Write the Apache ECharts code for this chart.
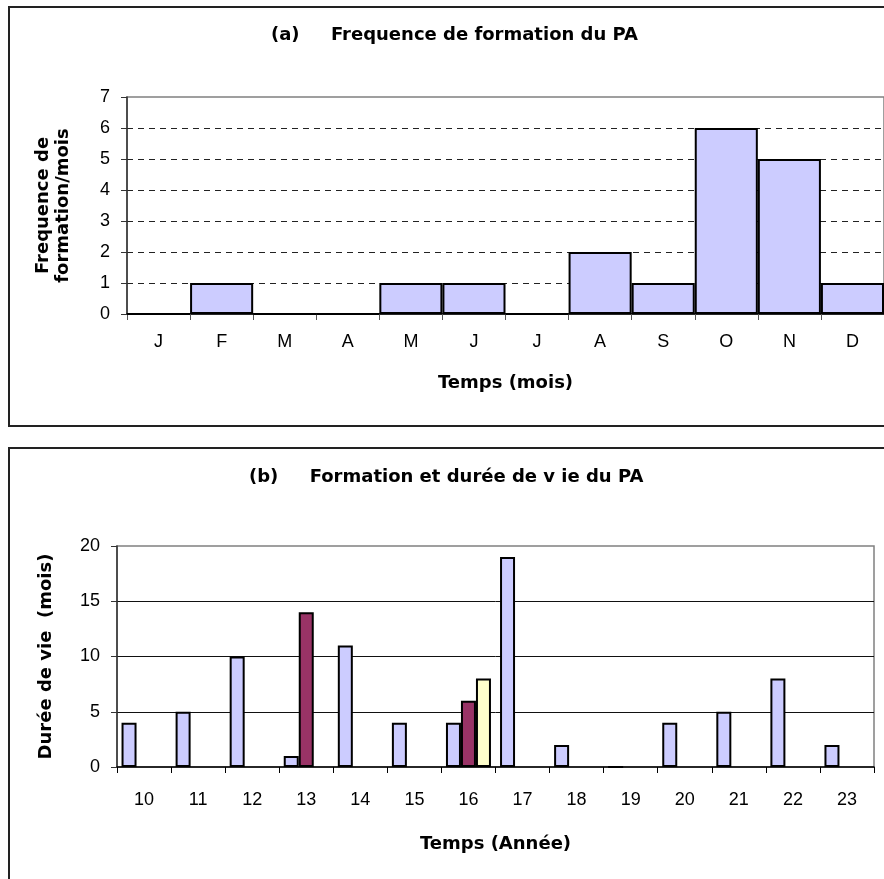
<!DOCTYPE html>
<html>
<head>
<meta charset="utf-8">
<script src="https://cdn.jsdelivr.net/npm/echarts@6/dist/echarts.min.js"></script>
<style>
html,body{margin:0;padding:0;background:#fff;}
#c{width:884px;height:879px;}
</style>
</head>
<body>
<div id="c"></div>
<script>
// Chart (a): formation frequency per month
const months = ['J','F','M','A','M','J','J','A','S','O','N','D'];
const freqValues = [0,1,0,0,1,1,0,2,1,6,5,1];
const freqTicks = [0,1,2,3,4,5,6,7];

// Chart (b): lifetime per year
const years = ['10','11','12','13','14','15','16','17','18','19','20','21','22','23'];
const lifeBlue   = [4,5,10,1,11,4,4,19,2,0,4,5,8,2];
const lifeMaroon = [null,null,null,14,null,null,6,null,null,null,null,null,null,null];
const lifeYellow = [null,null,null,null,null,null,8,null,null,null,null,null,null,null];
const lifeTicks = [0,5,10,15,20];

const titleA = '(a)     Frequence de formation du PA';
const titleB = '(b)     Formation et durée de v ie du PA';

const FONT = '"DejaVu Sans", Verdana, sans-serif';
const TFONT = '"Liberation Sans", Arial, sans-serif';
const bold = {fontFamily: FONT, fontWeight: 'bold', fontSize: 18, color: '#000'};
const tick = {fontFamily: TFONT, fontSize: 18, color: '#000'};

const chart = echarts.init(document.getElementById('c'));
chart.setOption({
  animation: false,
  backgroundColor: '#fff',
  graphic: [
    {type: 'rect', shape: {x: 9, y: 7, width: 1000, height: 419}, style: {fill: 'none', stroke: '#222', lineWidth: 2}, z: 0},
    {type: 'rect', shape: {x: 9, y: 448, width: 1000, height: 600}, style: {fill: 'none', stroke: '#222', lineWidth: 2}, z: 0}
  ],
  title: [
    {text: titleA, left: 266, top: 21, textStyle: bold},
    {text: titleB, left: 244, top: 463, textStyle: bold}
  ],
  grid: [
    {left: 127, top: 97, width: 758, height: 217, show: true, borderColor: '#808080', borderWidth: 1.5, backgroundColor: 'transparent'},
    {left: 117, top: 546, width: 757, height: 221, show: true, borderColor: '#808080', borderWidth: 1.5, backgroundColor: 'transparent'}
  ],
  xAxis: [
    {
      type: 'category', gridIndex: 0, data: months,
      name: 'Temps (mois)', nameLocation: 'middle', nameGap: 60, nameTextStyle: bold,
      axisLine: {lineStyle: {color: '#000', width: 1.5}},
      axisTick: {show: true, length: 6, lineStyle: {color: '#555'}},
      axisLabel: Object.assign({margin: 19}, tick)
    },
    {
      type: 'category', gridIndex: 1, data: years,
      name: 'Temps (Année)', nameLocation: 'middle', nameGap: 68, nameTextStyle: bold,
      axisLine: {lineStyle: {color: '#000', width: 1.5}},
      axisTick: {show: true, length: 6, lineStyle: {color: '#000'}},
      axisLabel: Object.assign({margin: 24}, tick)
    }
  ],
  yAxis: [
    {
      type: 'value', gridIndex: 0, min: freqTicks[0], max: freqTicks[freqTicks.length-1], interval: 1,
      name: 'Frequence de\nformation/mois', nameLocation: 'middle', nameGap: 54,
      nameTextStyle: Object.assign({lineHeight: 20}, bold),
      axisLine: {show: true, lineStyle: {color: '#333', width: 1.5}},
      axisTick: {show: true, length: 6, lineStyle: {color: '#333'}},
      axisLabel: Object.assign({margin: 17}, tick),
      splitLine: {show: true, showMinLine: false, showMaxLine: false, lineStyle: {color: '#222', type: [6,5], width: 1}}
    },
    {
      type: 'value', gridIndex: 1, min: lifeTicks[0], max: lifeTicks[lifeTicks.length-1], interval: 5,
      name: 'Durée de vie  (mois)', nameLocation: 'middle', nameGap: 62, nameTextStyle: bold,
      axisLine: {show: true, lineStyle: {color: '#333', width: 1.5}},
      axisTick: {show: true, length: 6, lineStyle: {color: '#333'}},
      axisLabel: Object.assign({margin: 17}, tick),
      splitLine: {show: true, showMinLine: false, showMaxLine: false, lineStyle: {color: '#111', width: 1}}
    }
  ],
  series: [
    {
      type: 'bar', xAxisIndex: 0, yAxisIndex: 0, data: freqValues,
      barCategoryGap: '0%',
      itemStyle: {color: '#CCCCFF', borderColor: '#000', borderWidth: 2}
    },
    {
      type: 'bar', xAxisIndex: 1, yAxisIndex: 1, data: lifeBlue,
      barWidth: 15, barGap: '0%',
      itemStyle: {color: '#CCCCFF', borderColor: '#000', borderWidth: 2}
    },
    {
      type: 'bar', xAxisIndex: 1, yAxisIndex: 1, data: lifeMaroon,
      barWidth: 15, barGap: '0%',
      itemStyle: {color: '#993366', borderColor: '#000', borderWidth: 2}
    },
    {
      type: 'bar', xAxisIndex: 1, yAxisIndex: 1, data: lifeYellow,
      barWidth: 15, barGap: '0%',
      itemStyle: {color: '#FFFFCC', borderColor: '#000', borderWidth: 2}
    }
  ]
});
</script>
</body>
</html>
